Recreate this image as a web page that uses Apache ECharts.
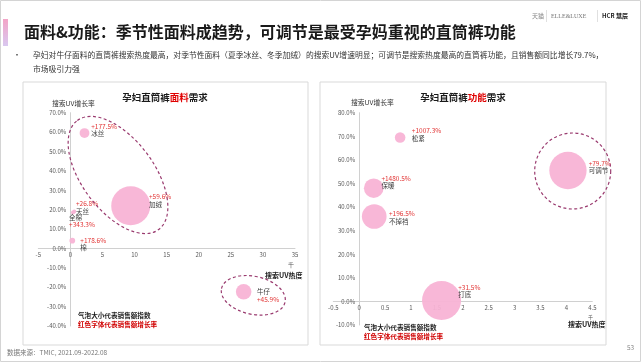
<!DOCTYPE html>
<html>
<head>
<meta charset="utf-8">
<script src="https://cdn.jsdelivr.net/npm/echarts@6/dist/echarts.min.js"></script>
<style>
html,body{margin:0;padding:0;background:#fff;}
#c{width:641px;height:362px;}
</style>
</head>
<body>
<div id="c"></div>
<script>
// ---- data: fabric chart (left) ----
var fabricNames = ['冰丝', '加绒', '天丝', '全棉', '棉', '牛仔'];
var fabricHeat = [2.2, 9.4, 0.6, 0.4, 0.3, 27.0];          // 搜索UV热度 (千)
var fabricUV = [59.5, 22.0, 19.0, 18.5, 4.0, -22.3];        // 搜索UV增长率 %
var fabricSales = [6, 95, 1, 1, 2, 15];                    // 销售额指数
var fabricGrowth = [177.5, 59.6, 26.8, 343.3, 178.6, 45.9]; // 销售额增长率 %

// ---- data: function chart (right) ----
var funcNames = ['松紧', '可调节', '保暖', '不掉裆', '打底'];
var funcHeat = [0.79, 4.03, 0.28, 0.29, 1.59];
var funcUV = [69.5, 55.5, 48.0, 36.0, 0.4];
var funcSales = [7, 87, 24, 38, 95];
var funcGrowth = [1007.3, 79.7, 1480.5, 196.5, 31.5];

// ---- axis ticks ----
var leftXTicks = { min: -5, max: 35, interval: 5 };
var leftYTicks = { min: -40, max: 70, interval: 10 };
var rightXTicks = { min: -0.5, max: 4.5, interval: 0.5 };
var rightYTicks = { min: -10, max: 80, interval: 10 };

// ---- label layout (styles, kept apart from data) ----
var labelOffsets = {
  '冰丝': [6.7, -10.3], '加绒': [18.3, -12.5], '天丝': [1.7, -11.8], '全棉': [-3.9, 1.2],
  '棉': [8, -4.3], '牛仔': [13.3, -3.8],
  '松紧': [11.7, -10.5], '可调节': [20.7, -10.8], '保暖': [7.7, -13.6], '不掉裆': [14.7, -6.7], '打底': [16.6, -16.9]
};
var nameFirst = { '全棉': true, '牛仔': true };

var FONT = '"Noto Sans CJK SC", "Noto Sans", sans-serif';
var RED = '#e02b2b';
var PINK = '#f8b3d5';
var GRIDS = [
  { left: 38.3, top: 112.7, width: 256.7, height: 213.3 },
  { left: 333.3, top: 112.7, width: 259, height: 212.3 }
];

function buildData(names, xs, ys, sizes, growth) {
  return names.map(function (n, i) {
    return {
      name: n,
      value: [xs[i], ys[i], sizes[i], growth[i]],
      label: { offset: labelOffsets[n] }
    };
  });
}

function labelFormatter(p) {
  var g = '{g|+' + p.value[3].toFixed(1) + '%}';
  var n = '{n|' + p.name + '}';
  return nameFirst[p.name] ? n + '\n' + g : g + '\n' + n;
}

function bubbleSeries(idx, data) {
  return {
    type: 'scatter',
    xAxisIndex: idx, yAxisIndex: idx,
    data: data,
    clip: false,
    symbolSize: function (v) { return Math.sqrt(v[2]) * 4; },
    itemStyle: { color: PINK, opacity: 0.95 },
    label: {
      show: true,
      position: 'inside',
      align: 'left',
      verticalAlign: 'top',
      formatter: labelFormatter,
      fontFamily: FONT,
      rich: {
        g: { color: RED, fontSize: 6.5, lineHeight: 7.5, fontFamily: FONT },
        n: { color: '#333', fontSize: 6.5, lineHeight: 7.5, fontFamily: FONT }
      }
    },
    emphasis: { disabled: true }
  };
}

function xAxisCfg(idx, t, off) {
  return {
    type: 'value', gridIndex: idx, min: t.min, max: t.max, interval: t.interval,
    position: 'bottom', offset: off || 0,
    axisLine: { onZero: false, lineStyle: { color: '#d0d0d0', width: 1 } },
    axisTick: { show: false },
    splitLine: { show: false },
    axisLabel: { fontSize: 6, color: '#595959', margin: 3, fontFamily: FONT }
  };
}
function yAxisCfg(idx, t, off) {
  return {
    type: 'value', gridIndex: idx, min: t.min, max: t.max, interval: t.interval,
    position: 'left', offset: off || 0,
    axisLine: { show: true, onZero: false, lineStyle: { color: '#d0d0d0', width: 1 } },
    axisTick: { show: false },
    splitLine: { show: false },
    axisLabel: { fontSize: 6, color: '#595959', margin: 4, fontFamily: FONT,
      formatter: function (v) { return v.toFixed(1) + '%'; } }
  };
}

var dash = { fill: 'none', stroke: '#9a3b6f', lineWidth: 1.2, lineDash: [3, 2.5] };

var graphics = [
  { type: 'rect', shape: { x: 0.5, y: 0.5, width: 640, height: 361 }, style: { fill: 'none', stroke: '#d4d4d4', lineWidth: 1 }, z: -1 },
  { type: 'rect', shape: { x: 3, y: 19, width: 5, height: 27 },
    style: { fill: new echarts.graphic.LinearGradient(0, 0, 0, 1, [{ offset: 0, color: '#f3a4c6' }, { offset: 1, color: '#d9c8f0' }]) } },
  { type: 'text', x: 24, y: 32, style: { text: '面料&功能：季节性面料成趋势，可调节是最受孕妈重视的直筒裤功能', font: 'bold 16px ' + FONT, fill: '#1a1a1a', verticalAlign: 'middle' } },
  { type: 'text', x: 532, y: 16, style: { text: '天猫', font: '6px ' + FONT, fill: '#888', verticalAlign: 'middle' } },
  { type: 'rect', shape: { x: 546, y: 10, width: 0.6, height: 12 }, style: { fill: '#ccc' } },
  { type: 'text', x: 551, y: 16, style: { text: 'ELLE&LUXE', font: '6px "Liberation Serif", serif', fill: '#777', verticalAlign: 'middle' } },
  { type: 'rect', shape: { x: 597, y: 10, width: 0.6, height: 12 }, style: { fill: '#ccc' } },
  { type: 'text', x: 602, y: 16, style: { text: 'HCR 慧辰', font: 'bold 6px ' + FONT, fill: '#222', verticalAlign: 'middle' } },
  { type: 'text', x: 13, y: 55, style: { text: '•', font: '8px ' + FONT, fill: '#333', verticalAlign: 'middle' } },
  { type: 'text', x: 33, y: 55, style: { text: '孕妇对牛仔面料的直筒裤搜索热度最高，对季节性面料（夏季冰丝、冬季加绒）的搜索UV增速明显；可调节是搜索热度最高的直筒裤功能，且销售额同比增长79.7%，', font: '7.8px ' + FONT, fill: '#333', verticalAlign: 'middle' } },
  { type: 'text', x: 33, y: 69, style: { text: '市场吸引力强', font: '7.8px ' + FONT, fill: '#333', verticalAlign: 'middle' } },
  // panels
  { type: 'rect', shape: { x: 23, y: 82, width: 285, height: 263 }, style: { fill: 'none', stroke: '#d9d9d9', lineWidth: 1 }, z: -1 },
  { type: 'rect', shape: { x: 320, y: 82, width: 286, height: 263 }, style: { fill: 'none', stroke: '#d9d9d9', lineWidth: 1 }, z: -1 },
  // panel titles
  { type: 'text', x: 165, y: 97, style: { text: '{b|孕妇直筒裤}{r|面料}{b|需求}', align: 'center', verticalAlign: 'middle',
      rich: { b: { font: 'bold 9.5px ' + FONT, fill: '#1a1a1a' }, r: { font: 'bold 9.5px ' + FONT, fill: '#e00000' } } } },
  { type: 'text', x: 463, y: 97, style: { text: '{b|孕妇直筒裤}{r|功能}{b|需求}', align: 'center', verticalAlign: 'middle',
      rich: { b: { font: 'bold 9.5px ' + FONT, fill: '#1a1a1a' }, r: { font: 'bold 9.5px ' + FONT, fill: '#e00000' } } } },
  // axis names
  { type: 'text', x: 52, y: 103, style: { text: '搜索UV增长率', font: '6.8px ' + FONT, fill: '#333', verticalAlign: 'middle' } },
  { type: 'text', x: 351, y: 102, style: { text: '搜索UV增长率', font: '6.8px ' + FONT, fill: '#333', verticalAlign: 'middle' } },
  { type: 'text', x: 288, y: 265, style: { text: '千', font: '6px ' + FONT, fill: '#555', verticalAlign: 'middle' } },
  { type: 'text', x: 265, y: 275, style: { text: '搜索UV热度', font: 'bold 7px ' + FONT, fill: '#222', verticalAlign: 'middle' } },
  { type: 'text', x: 588, y: 317, style: { text: '千', font: '5px ' + FONT, fill: '#555', verticalAlign: 'middle' } },
  { type: 'text', x: 568, y: 324, style: { text: '搜索UV热度', font: 'bold 7px ' + FONT, fill: '#222', verticalAlign: 'middle' } },
  // bubble legends
  { type: 'text', x: 78, y: 315, style: { text: '气泡大小代表销售额指数', font: 'bold 6.6px ' + FONT, fill: '#1a1a1a', verticalAlign: 'middle' } },
  { type: 'text', x: 78, y: 324, style: { text: '红色字体代表销售额增长率', font: 'bold 6.6px ' + FONT, fill: '#d00000', verticalAlign: 'middle' } },
  { type: 'text', x: 364, y: 327.5, style: { text: '气泡大小代表销售额指数', font: 'bold 6.6px ' + FONT, fill: '#1a1a1a', verticalAlign: 'middle' } },
  { type: 'text', x: 364, y: 336, style: { text: '红色字体代表销售额增长率', font: 'bold 6.6px ' + FONT, fill: '#d00000', verticalAlign: 'middle' } },
  // footer
  { type: 'text', x: 7, y: 353, style: { text: '数据来源：TMIC, 2021.09-2022.08', font: '6.5px ' + FONT, fill: '#777', verticalAlign: 'middle' } },
  { type: 'text', x: 627, y: 348, style: { text: '53', font: '6.5px ' + FONT, fill: '#888', verticalAlign: 'middle' } },
  // dashed highlight ellipses
  { type: 'ellipse', x: 118, y: 175, rotation: -0.93, shape: { cx: 0, cy: 0, rx: 68, ry: 36 }, style: dash, z: 10 },
  { type: 'ellipse', x: 253.3, y: 295.3, rotation: -0.21, shape: { cx: 0, cy: 0, rx: 32.5, ry: 19 }, style: dash, z: 10 },
  { type: 'circle', shape: { cx: 572.7, cy: 171, r: 38 }, style: dash, z: 10 }
];

var chart = echarts.init(document.getElementById('c'), null, { renderer: 'canvas' });
function buildOption(offs) {
  return {
    animation: false,
    textStyle: { fontFamily: FONT },
    grid: GRIDS,
    xAxis: [xAxisCfg(0, leftXTicks, offs[0].x), xAxisCfg(1, rightXTicks, offs[1].x)],
    yAxis: [yAxisCfg(0, leftYTicks, offs[0].y), yAxisCfg(1, rightYTicks, offs[1].y)],
    series: [
      bubbleSeries(0, buildData(fabricNames, fabricHeat, fabricUV, fabricSales, fabricGrowth)),
      bubbleSeries(1, buildData(funcNames, funcHeat, funcUV, funcSales, funcGrowth))
    ],
    graphic: graphics
  };
}
chart.setOption(buildOption([{ x: 0, y: 0 }, { x: 0, y: 0 }]));
// move each axis (line + labels) onto the other axis' zero, using the library's scales
var offs = GRIDS.map(function (g, i) {
  var p = chart.convertToPixel({ gridIndex: i }, [0, 0]);
  return { x: -((g.top + g.height) - p[1]), y: -(p[0] - g.left) };
});
chart.setOption(buildOption(offs), true);
</script>
</body>
</html>
